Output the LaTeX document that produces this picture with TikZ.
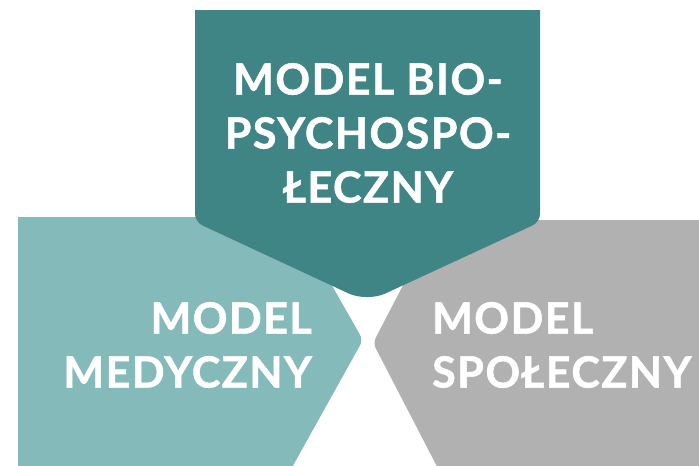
\documentclass[tikz,border=0pt]{standalone}
\usepackage{fontspec}
\setmainfont{Lato}
\usepackage{xcolor}
\usepackage{tikz}
\usetikzlibrary{positioning}

\definecolor{tealdark}{HTML}{3F8585}
\definecolor{teallight}{HTML}{85BABA}
\definecolor{greymodel}{HTML}{B1B1B1}

\begin{document}
\begin{tikzpicture}[
    x=1pt, y=-1pt,
    label/.style={text=white, font=\fontsize{43}{54}\selectfont\bfseries\addfontfeature{LetterSpace=3.5,FakeBold=1.2}, inner sep=0pt}
]
    \useasboundingbox (0,0) rectangle (699,466);
    \clip (0,0) rectangle (699,466);

    % Side panels
    \fill[teallight] (18,217) -- (293,217) [rounded corners=6pt] -- (363,340)
        [sharp corners] -- (285,480) -- (18,480) -- cycle;
    \fill[greymodel] (437,220) -- (720,220) -- (720,480) -- (444,480)
        [rounded corners=6pt] -- (373,343) [sharp corners] -- cycle;

    % Top panel
    \fill[tealdark] (195,10) -- (540,10) [rounded corners=8pt] -- (540,222)
        [rounded corners=20pt] -- (367,302) [rounded corners=8pt] -- (195,222) [sharp corners] -- cycle;

    % Labels
    \node[label, align=center] (bio) at (368,133) {MODEL BIO-\\PSYCHOSPO-\\ŁECZNY};
    \node[label, align=right, anchor=east] (med) at (312,345) {MODEL\\MEDYCZNY};
    \node[label, align=left, anchor=west] (spo) at (432,345) {MODEL\\SPOŁECZNY};
\end{tikzpicture}
\end{document}
